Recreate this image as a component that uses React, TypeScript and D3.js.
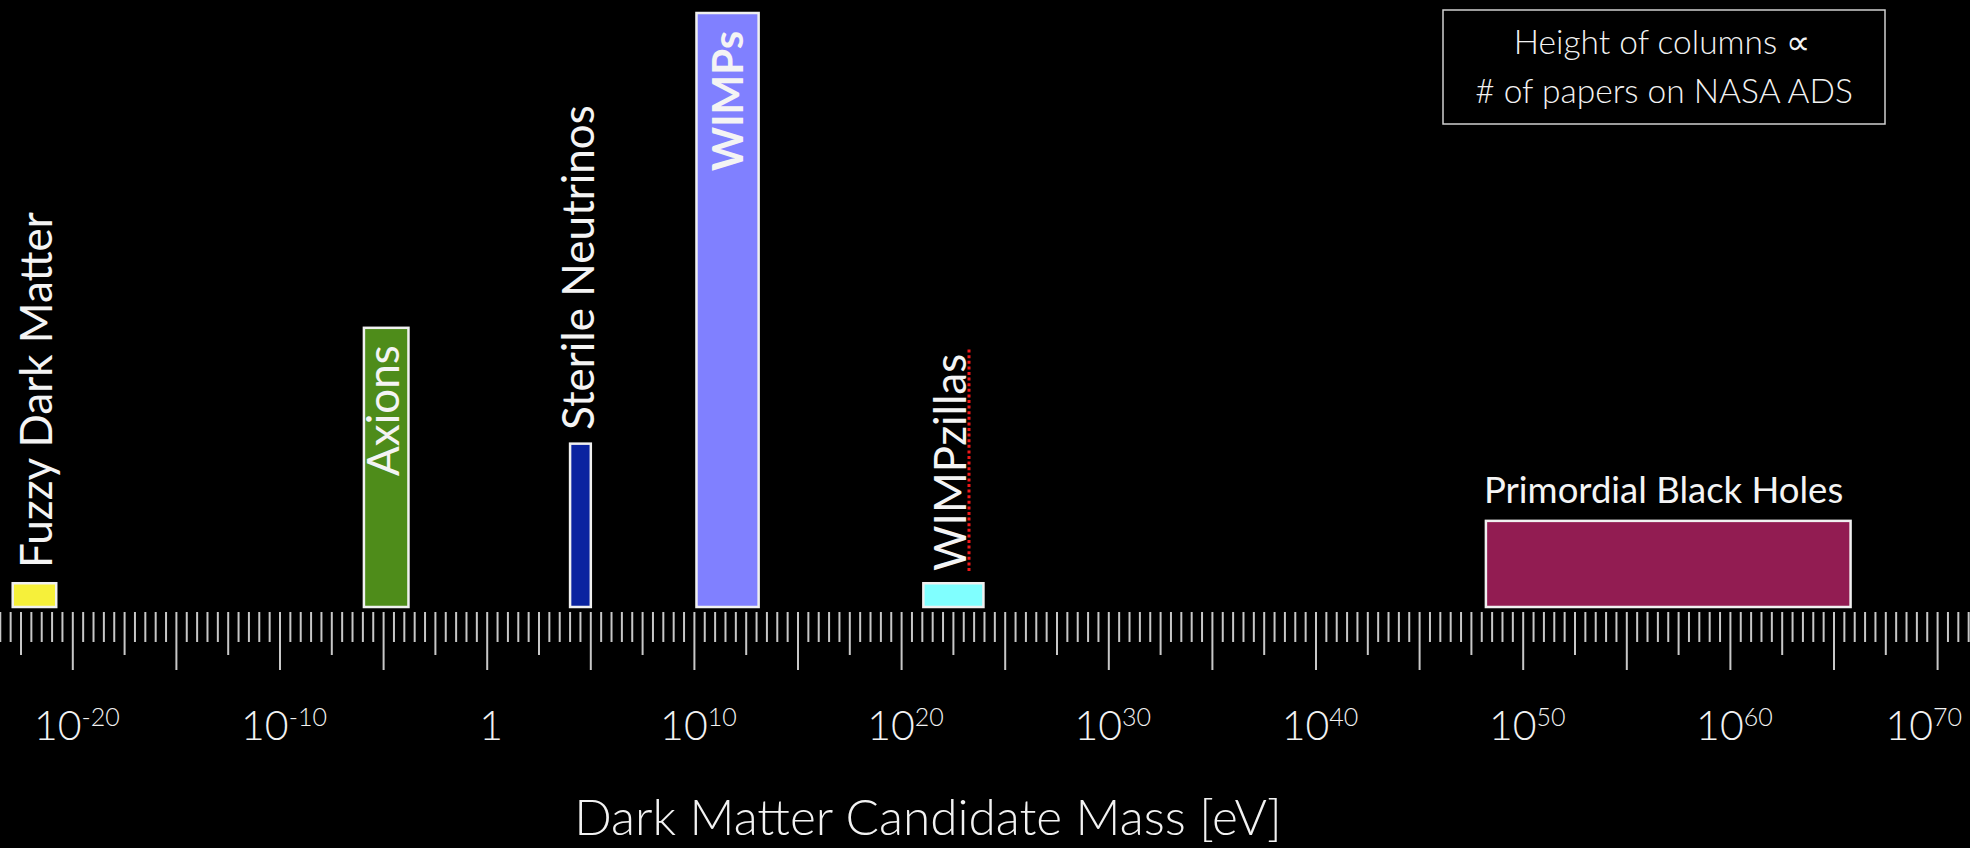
import React, { useEffect, useRef } from 'react';
import * as d3 from 'd3';

// candidates: mass range as log10(eV), height = relative # of papers
const names = ['Fuzzy Dark Matter', 'Axions', 'Sterile Neutrinos', 'WIMPs', 'WIMPzillas', 'Primordial Black Holes'];
const massLo = [-22.9, -5.95, 4.0, 10.1, 21.05, 48.2];
const massHi = [-20.8, -3.8, 5.0, 13.1, 23.95, 65.8];
const papers = [4, 47, 27.5, 100, 4, 14.5];
const fills = ['#f6f03a', '#4e8c1a', '#0a23a0', '#8080ff', '#80ffff', '#921c52'];

const tickExps = [-20, -10, 0, 10, 20, 30, 40, 50, 60, 70];

const W = 1970;
const H = 848;
const FONT = 'Lato, "Open Sans", sans-serif';

export default function App() {
  const ref = useRef<SVGSVGElement>(null);

  useEffect(() => {
    const svg = d3.select(ref.current).html('');
    const baseY = 607;

    const x = d3.scaleLog().domain([1e-20, 1e70]).range([72.8, 1937.6]);
    const y = d3.scaleLinear().domain([0, 100]).range([baseY, 13]);

    svg.append('rect').attr('width', W).attr('height', H).attr('fill', '#000');

    // ruler ticks every half decade
    const halfSteps = d3.range(-47, 144).map((k) => k / 2);
    svg.append('g')
      .selectAll('line')
      .data(halfSteps.filter((e) => x(Math.pow(10, e)) <= W))
      .join('line')
      .attr('x1', (e) => x(Math.pow(10, e)))
      .attr('x2', (e) => x(Math.pow(10, e)))
      .attr('y1', 612)
      .attr('y2', (e) => (e % 5 === 0 ? 670 : e % 2.5 === 0 ? 655 : 642))
      .attr('stroke', '#c8c8c8')
      .attr('stroke-width', 2);

    // tick labels
    const lab = svg.append('g')
      .attr('fill', '#f2f2f2')
      .attr('font-family', FONT)
      .attr('font-weight', 300)
      .selectAll('text')
      .data(tickExps)
      .join('text')
      .attr('x', (e) => x(Math.pow(10, e)) + 4)
      .attr('y', 740)
      .attr('text-anchor', 'middle')
      .attr('font-size', 41);
    lab.each(function (e) {
      const t = d3.select(this);
      if (e === 0) {
        t.text('1');
      } else {
        t.append('tspan').text('10');
        t.append('tspan').attr('font-size', 25).attr('dy', -14).text(String(e));
      }
      // keep the last label inside the frame
      const node = this as SVGTextElement;
      const bb = node.getBBox();
      if (bb.x + bb.width > W - 8) {
        t.attr('x', +t.attr('x') - (bb.x + bb.width - (W - 8)));
      }
    });

    // columns
    const data = names.map((n, i) => ({ n, lo: massLo[i], hi: massHi[i], p: papers[i], c: fills[i] }));
    svg.append('g')
      .selectAll('rect')
      .data(data)
      .join('rect')
      .attr('x', (d) => x(Math.pow(10, d.lo)))
      .attr('y', (d) => y(d.p))
      .attr('width', (d) => x(Math.pow(10, d.hi)) - x(Math.pow(10, d.lo)))
      .attr('height', (d) => baseY - y(d.p))
      .attr('fill', (d) => d.c)
      .attr('stroke', '#f0f0f0')
      .attr('stroke-width', 2.5);

    // rotated labels
    const vlab = (txt: string, bx: number, by: number, bold = false) =>
      svg.append('text')
        .attr('transform', `translate(${bx},${by}) rotate(-90)`)
        .attr('fill', '#f4f4f4')
        .attr('font-family', FONT)
        .attr('font-size', bold ? 42 : 44)
        .attr('font-weight', bold ? 700 : 400)
        .text(txt);

    vlab(names[0], 52, 568);
    vlab(names[1], 399, 476);
    vlab(names[2], 594, 430);
    vlab(names[3], 743, 171, true);
    vlab(names[4], 966, 571);

    // spell-check squiggle under WIMPzillas
    svg.append('line')
      .attr('x1', 969).attr('x2', 969)
      .attr('y1', 571).attr('y2', 347)
      .attr('stroke', '#f01818')
      .attr('stroke-width', 3)
      .attr('stroke-dasharray', '3 2.6');

    svg.append('text')
      .attr('x', 1484)
      .attr('y', 503)
      .attr('fill', '#f4f4f4')
      .attr('font-family', FONT)
      .attr('font-size', 36.5)
      .attr('font-weight', 400)
      .text(names[5]);

    // note box
    svg.append('rect')
      .attr('x', 1443).attr('y', 10)
      .attr('width', 442).attr('height', 114)
      .attr('fill', 'none')
      .attr('stroke', '#cfcfcf')
      .attr('stroke-width', 1.5);
    const note = svg.append('g')
      .attr('fill', '#f2f2f2')
      .attr('font-family', FONT)
      .attr('font-size', 33.5)
      .attr('font-weight', 300)
      .attr('text-anchor', 'middle');
    note.append('text').attr('x', 1662).attr('y', 54).text('Height of columns ∝');
    note.append('text').attr('x', 1664).attr('y', 103).text('# of papers on NASA ADS');

    // axis title
    svg.append('text')
      .attr('x', 928)
      .attr('y', 835)
      .attr('text-anchor', 'middle')
      .attr('fill', '#f2f2f2')
      .attr('font-family', FONT)
      .attr('font-size', 49.5)
      .attr('font-weight', 300)
      .text('Dark Matter Candidate Mass [eV]');
  }, []);

  return (
    <svg
      ref={ref}
      width={W}
      height={H}
      style={{ position: 'absolute', left: 0, top: 0, display: 'block', background: '#000' }}
    />
  );
}
